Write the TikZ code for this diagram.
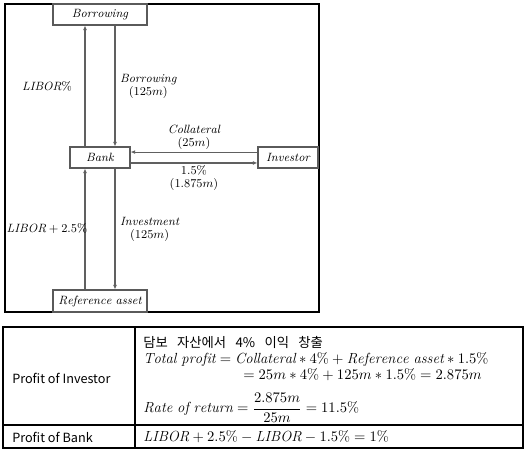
\documentclass[tikz,border=0pt]{standalone}
\usepackage{amsmath}
\usepackage{fontspec}
\newfontfamily\krfont{Noto Sans CJK KR}
\usepackage{tikz}
\usetikzlibrary{arrows.meta,positioning,calc}
\definecolor{boxGrey}{HTML}{5A5A5A}
\definecolor{flowGrey}{HTML}{606060}
\newcommand{\itw}[1]{\mathit{#1}}

\begin{document}
\begin{tikzpicture}[
    x=0.75pt, y=-0.75pt,
    >={Latex[length=3.5pt,width=3pt]},
    font=\fontsize{9}{11}\selectfont,
    box/.style={draw=boxGrey, line width=0.8pt, minimum width=#1,
                minimum height=15.75pt, inner sep=0pt},
    flow/.style={->, draw=flowGrey, line width=0.8pt},
    lbl/.style={align=center, inner sep=1.5pt, font=\fontsize{9}{9.8}\selectfont},
    cell/.style={font=\krfont\fontsize{9.5}{11}\selectfont, anchor=west, inner sep=0pt},
    eqn/.style={anchor=west, inner sep=0pt, font=\fontsize{11}{13}\selectfont},
  ]
  \useasboundingbox (0,0) rectangle (527,453);

  % --- frame of the scheme ---
  \draw[line width=0.8pt] (5,4) rectangle (319,312);

  % --- parties ---
  \node[box=70.5pt] (borrow) at (100,14.5)  {$\itw{Borrowing}$};
  \node[box=45pt]   (bank)   at (100,157.5) {$\itw{Bank}$};
  \node[box=45pt]   (inv)    at (288,157.5) {$\itw{Investor}$};
  \node[box=70.5pt, minimum height=16.5pt] (ref) at (100,301) {$\itw{Reference\ asset}$};

  % --- cash flows ---
  \draw[flow] ([xshift=-11.25pt]bank.north) -- node[midway, xshift=-28.5pt, lbl]
    {$\itw{LIBOR}\%$} ([xshift=-11.25pt]borrow.south);
  \draw[flow] ([xshift=11.25pt]borrow.south) -- node[midway, right=2pt, lbl]
    {$\itw{Borrowing}$\\$(125m)$} ([xshift=11.25pt]bank.north);
  \draw[flow] ([yshift=4.1pt]inv.west) -- node[midway, above, lbl]
    {$\itw{Collateral}$\\$(25m)$} ([yshift=4.1pt]bank.east);
  \draw[flow] ([yshift=-4.1pt]bank.east) -- node[midway, below, lbl]
    {$1.5\%$\\$(1.875m)$} ([yshift=-4.1pt]inv.west);
  \draw[flow] ([xshift=-11.25pt]ref.north) -- node[midway, xshift=-28.5pt, lbl]
    {$\itw{LIBOR} + 2.5\%$} ([xshift=-11.25pt]bank.south);
  \draw[flow] ([xshift=11.25pt]bank.south) -- node[midway, right=2pt, lbl]
    {$\itw{Investment}$\\$(125m)$} ([xshift=11.25pt]ref.north);

  % --- profit table ---
  \draw[line width=0.8pt] (3,327) rectangle (523,448);
  \draw[line width=0.8pt] (3,425) -- (523,425);
  \draw[line width=0.8pt] (135,327) -- (135,448);

  \node[cell] (invhead)  at (12,378) {Profit of Investor};
  \node[cell] (bankhead) at (12,437) {Profit of Bank};

  \node[cell, font=\krfont\fontsize{10}{12}\selectfont] (note) at (143,342)
    {\spaceskip=0.7em\relax 담보 자산에서 4\% 이익 창출};
  \node[eqn] (total) at (143,359)
    {$\itw{Total\ profit} = \itw{Collateral} \ast 4\% + \itw{Reference\ asset} \ast 1.5\%$};
  \node[eqn] (value) at (243,374.5)
    {$= 25m \ast 4\% + 125m \ast 1.5\% = 2.875m$};
  \node[eqn] (rate) at (143,408)
    {$\itw{Rate\ of\ return} = \dfrac{2.875m}{25m} = 11.5\%$};
  \node[eqn] (bankprofit) at (143,437)
    {$\itw{LIBOR} + 2.5\% - \itw{LIBOR} - 1.5\% = 1\%$};

\end{tikzpicture}
\end{document}
